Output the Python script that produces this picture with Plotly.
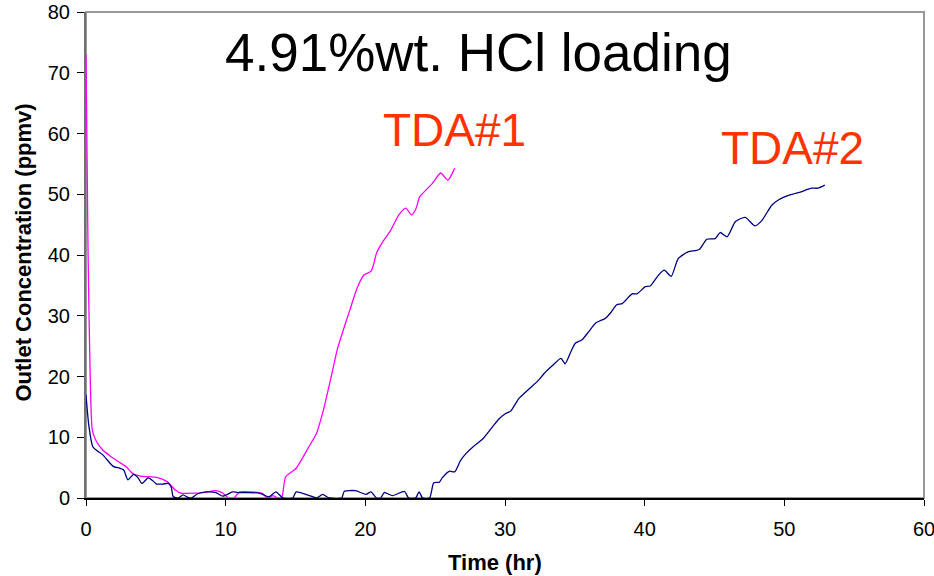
import plotly.graph_objects as go

# TDA#1 (magenta)
tda1_time = [0, 0.15, 0.3, 0.45, 0.7, 1.2, 1.8, 2.3, 2.9, 3.3, 3.9, 4.5, 5.05, 5.8, 6.4, 6.8,
             7.7, 8.4, 9.3, 9.8, 10.2, 10.6, 11.0, 11.9, 12.6, 13.0, 13.4, 13.7, 14.0, 14.3,
             15.05, 15.95, 16.5, 17.0, 17.5, 18.0, 18.4, 18.9, 19.4, 19.9, 20.4, 20.6, 20.8,
             21.2, 21.8, 22.4, 22.9, 23.3, 23.6, 23.9, 24.3, 24.8, 25.4, 25.9, 26.4]
tda1_conc = [73, 40, 20, 11.2, 9.5, 7.9, 6.8, 6.0, 5.1, 4.1, 3.6, 3.5, 3.4, 2.7, 1.3, 0.8,
             0.8, 0.9, 1.2, 0.8, 0.0, 0.0, 1.0, 1.0, 0.8, 0.0, 0.4, 0.0, 0.0, 3.5,
             4.9, 8.4, 10.6, 14.5, 19.4, 24.5, 27.5, 31.0, 34.5, 36.7, 37.3, 38.5, 40.3,
             42.0, 44.0, 46.6, 47.7, 46.6, 47.5, 49.6, 50.6, 51.8, 53.5, 52.3, 54.3]

# TDA#2 (navy)
tda2_time = [0, 0.2, 0.5, 1.2, 1.95, 2.4, 2.7, 3.0, 3.4, 3.7, 4.0, 4.45, 4.8, 5.05, 5.5, 5.9,
             6.1, 6.25, 6.6, 6.95, 7.3, 7.55, 8.0, 8.6, 9.3, 9.8, 10.5, 11.0, 11.5, 12.4, 13.1,
             13.6, 14.1, 14.8, 15.05, 16.0, 16.5, 16.95, 17.4, 18.3, 18.5, 19.3, 20.05, 20.4,
             20.8, 21.1, 21.35, 21.95, 22.8, 23.1, 23.6, 23.85, 24.1, 24.6, 24.9, 25.3, 25.5,
             26.0, 26.4, 26.8, 27.2, 27.7, 28.4, 29.1, 29.6, 30.05, 30.4, 31.0, 31.7, 32.4,
             32.8, 33.4, 34.0, 34.3, 34.7, 35.05, 35.5, 36.0, 36.5, 37.2, 37.6, 38.0, 38.4,
             39.1, 39.45, 40.05, 40.4, 41.0, 41.4, 41.9, 42.4, 43.1, 43.9, 44.45, 45.05, 45.4,
             45.9, 46.5, 47.2, 47.9, 48.4, 49.1, 49.6, 50.4, 51.2, 51.95, 52.4, 52.9]
tda2_conc = [17, 12, 8.4, 7.1, 5.2, 4.9, 4.6, 3.0, 3.9, 3.4, 2.4, 3.3, 2.8, 2.3, 2.3, 2.4,
             1.8, 0.2, 0.0, 0.5, 0.1, 0.0, 0.7, 1.0, 0.9, 0.3, 1.0, 0.9, 0.9, 0.8, 0.2,
             1.0, 0.0, 0.0, 1.0, 0.4, 0.0, 0.6, 0.0, 0.0, 1.1, 1.2, 0.6, 1.0,
             0.0, 0.0, 0.9, 0.4, 1.1, 0.0, 0.0, 1.0, 0.0, 0.0, 2.5, 2.6, 3.3,
             4.4, 4.3, 6.1, 7.3, 8.4, 9.7, 11.7, 13.1, 13.9, 14.3, 16.4, 17.9, 19.4,
             20.5, 21.8, 23.0, 22.1, 24.0, 25.5, 26.0, 27.4, 28.8, 29.6, 30.6, 31.8, 32.0,
             33.6, 33.6, 34.8, 34.9, 36.7, 37.5, 36.5, 39.4, 40.5, 40.9, 42.6, 42.7, 43.7,
             43.0, 45.5, 46.2, 44.8, 45.7, 48.2, 49.1, 49.9, 50.4, 51.0, 51.0, 51.5]

x_ticks = [0, 10, 20, 30, 40, 50, 60]
y_ticks = [0, 10, 20, 30, 40, 50, 60, 70, 80]

FONT = "Liberation Sans, Arial, sans-serif"

fig = go.Figure()
fig.add_trace(go.Scatter(x=tda1_time, y=tda1_conc, mode="lines", name="TDA#1",
                         line=dict(color="#FF00FF", width=1.3, shape="spline", smoothing=0.6)))
fig.add_trace(go.Scatter(x=tda2_time, y=tda2_conc, mode="lines", name="TDA#2",
                         line=dict(color="#000080", width=1.3, shape="spline", smoothing=0.6)))

fig.update_layout(
    width=934, height=576,
    margin=dict(l=86, r=10, t=12, b=78),
    paper_bgcolor="white", plot_bgcolor="white",
    showlegend=False,
    font=dict(family=FONT, color="black", size=20),
    xaxis=dict(range=[0, 60], tickvals=x_ticks, ticks="outside", ticklen=6, tickcolor="black",
               showgrid=False, zeroline=False, showline=True, linecolor="black", linewidth=1.5,
               tickfont=dict(size=20), ticklabelstandoff=6, ticklabeloverflow="allow",
               automargin=False),
    yaxis=dict(range=[0, 80], tickvals=y_ticks, ticks="outside", ticklen=7, tickcolor="black",
               showgrid=False, zeroline=False, showline=True, linecolor="#707070", linewidth=2,
               tickfont=dict(size=20), ticklabelstandoff=3, automargin=False),
    shapes=[dict(type="rect", xref="paper", yref="paper", x0=0, x1=1, y0=0, y1=1,
                 line=dict(color="#999999", width=2), layer="below")],
    annotations=[
        dict(text="<b>Time (hr)</b>", x=0.488, y=-0.1337, xref="paper", yref="paper",
             xanchor="center", yanchor="middle", showarrow=False,
             font=dict(size=22, color="black", family=FONT)),
        dict(text="<b>Outlet Concentration (ppmv)</b>", x=-0.074, y=0.505, xref="paper", yref="paper",
             xanchor="center", yanchor="middle", textangle=-90, showarrow=False,
             font=dict(size=22, color="black", family=FONT)),
        dict(text="4.91%wt. HCl loading", x=28.1, y=73.4, xref="x", yref="y",
             xanchor="center", yanchor="middle",
             showarrow=False, font=dict(size=53, color="black", family=FONT)),
        dict(text="TDA#1", x=26.4, y=60.6, xref="x", yref="y",
             xanchor="center", yanchor="middle",
             showarrow=False, font=dict(size=46, color="#FF3300", family=FONT)),
        dict(text="TDA#2", x=50.6, y=57.6, xref="x", yref="y",
             xanchor="center", yanchor="middle",
             showarrow=False, font=dict(size=46, color="#FF3300", family=FONT)),
    ],
)

fig.write_html("out.html")
